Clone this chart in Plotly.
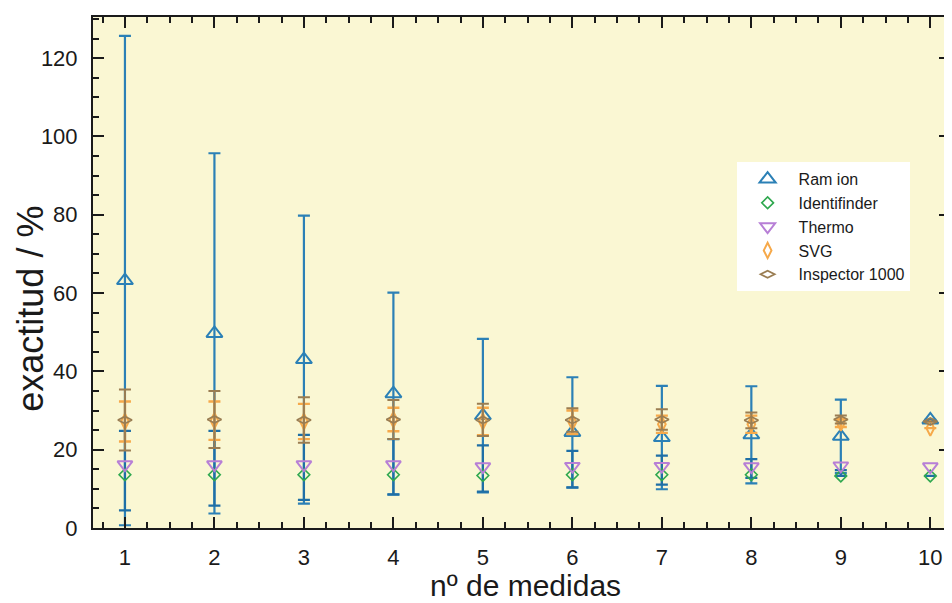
import plotly.graph_objects as go

x = [1, 2, 3, 4, 5, 6, 7, 8, 9, 10]

ramion = [63.2, 49.7, 43.0, 34.3, 28.7, 24.4, 23.1, 23.8, 23.4, 27.6]
ramion_err = [62.5, 46.0, 36.8, 25.8, 19.6, 14.1, 13.2, 12.4, 9.4, 0]

identifinder = [13.6, 13.6, 13.6, 13.6, 13.4, 13.6, 13.6, 13.6, 13.3, 13.3]
identifinder_err_plus = [11.2, 11.2, 10.2, 9.1, 7.7, 6.1, 4.9, 4.0, 1.5, 0]
identifinder_err_minus = [9.1, 7.9, 6.4, 5.0, 4.1, 3.2, 2.5, 0.8, 0.0, 0]

thermo = [16.2, 16.2, 16.2, 16.2, 15.7, 15.8, 15.8, 15.7, 15.9, 15.7]

svg = [27.2, 27.4, 27.2, 27.7, 27.2, 27.0, 26.5, 26.5, 26.8, 25.5]
svg_err = [5.1, 4.9, 4.5, 3.0, 3.5, 3.0, 2.2, 2.2, 1.0, 0]

inspector = [27.6, 27.7, 27.6, 27.7, 27.6, 27.6, 27.7, 27.5, 27.7, 27.2]
inspector_err = [7.8, 7.3, 5.8, 5.0, 4.1, 3.0, 2.6, 2.0, 1.0, 0]

x_ticks = [1, 2, 3, 4, 5, 6, 7, 8, 9, 10]
y_ticks = [0, 20, 40, 60, 80, 100, 120]

x_title = "nº de medidas"
y_title = "exactitud / %"

BLUE = "#2b80b6"
EBLUE = "#1f6fa6"
GREEN = "#2fa84f"
PURPLE = "#b77fd6"
ORANGE = "#f6a94a"
BROWN = "#9a7d52"
INK = "#1a1a1a"
FONT = "Liberation Sans, Arial, sans-serif"

fig = go.Figure()

fig.add_trace(go.Scatter(
    x=x, y=ramion, mode="markers", name="Ram ion",
    marker=dict(symbol="triangle-up-open", size=14, color=BLUE, line=dict(width=2, color=BLUE)),
    error_y=dict(type="data", array=ramion_err, visible=True, color=BLUE, thickness=2.2, width=6),
))
fig.add_trace(go.Scatter(
    x=x, y=identifinder, mode="markers", name="Identifinder",
    marker=dict(symbol="diamond-open", size=9, color=GREEN, line=dict(width=1.6, color=GREEN)),
    error_y=dict(type="data", symmetric=False, array=identifinder_err_plus,
                 arrayminus=identifinder_err_minus, visible=True, color=EBLUE, thickness=2.2, width=6),
))
fig.add_trace(go.Scatter(
    x=x, y=thermo, mode="markers", name="Thermo",
    marker=dict(symbol="triangle-down-open", size=13, color=PURPLE, line=dict(width=2, color=PURPLE)),
))
fig.add_trace(go.Scatter(
    x=x, y=svg, mode="markers", name="SVG",
    marker=dict(symbol="diamond-tall-open", size=11, color=ORANGE, line=dict(width=2, color=ORANGE)),
    error_y=dict(type="data", array=svg_err, visible=True, color=ORANGE, thickness=2.4, width=6),
))
fig.add_trace(go.Scatter(
    x=x, y=inspector, mode="markers", name="Inspector 1000",
    marker=dict(symbol="diamond-wide-open", size=10, color=BROWN, line=dict(width=1.8, color=BROWN)),
    error_y=dict(type="data", array=inspector_err, visible=True, color=BROWN, thickness=2, width=6),
))

axis_font = dict(family=FONT, size=22, color=INK)

fig.update_layout(
    width=944, height=595,
    margin=dict(l=85, r=0, t=9, b=75),
    paper_bgcolor="white",
    plot_bgcolor="#faf7d3",
    font=dict(family=FONT, color=INK),
    showlegend=True,
    legend=dict(
        x=0.751, y=0.716, xanchor="left", yanchor="top",
        bgcolor="white", borderwidth=0,
        font=dict(size=16, family=FONT, color=INK),
        tracegroupgap=0, itemwidth=52,
    ),
    xaxis=dict(
        range=[0.643, 10.22], tickvals=x_ticks, ticktext=[str(v) for v in x_ticks],
        ticks="inside", ticklen=11, tickwidth=2, tickcolor=INK,
        showline=True, linewidth=2, linecolor=INK, mirror="ticks",
        showgrid=False, zeroline=False, tickfont=axis_font, ticklabelstandoff=9,
        minor=dict(dtick=0.25, tick0=0, ticks="inside", ticklen=6, tickwidth=2, tickcolor=INK, showgrid=False),
    ),
    yaxis=dict(
        range=[0, 130.5], tickvals=y_ticks, ticktext=[str(v) for v in y_ticks],
        ticks="inside", ticklen=11, tickwidth=2, tickcolor=INK,
        showline=True, linewidth=2, linecolor=INK, mirror="ticks",
        showgrid=False, zeroline=False, tickfont=axis_font, ticklabelstandoff=9,
        minor=dict(dtick=5, tick0=0, ticks="inside", ticklen=6, tickwidth=2, tickcolor=INK, showgrid=False),
    ),
    annotations=[
        dict(text=x_title, xref="paper", yref="paper", x=0.505, y=-0.112,
             xanchor="center", yanchor="middle", showarrow=False,
             font=dict(size=30, family=FONT, color=INK)),
        dict(text=y_title, xref="paper", yref="paper", x=-0.073, y=0.43,
             xanchor="center", yanchor="middle", showarrow=False, textangle=-90,
             font=dict(size=36, family=FONT, color=INK)),
    ],
)

fig.write_html("out.html")
